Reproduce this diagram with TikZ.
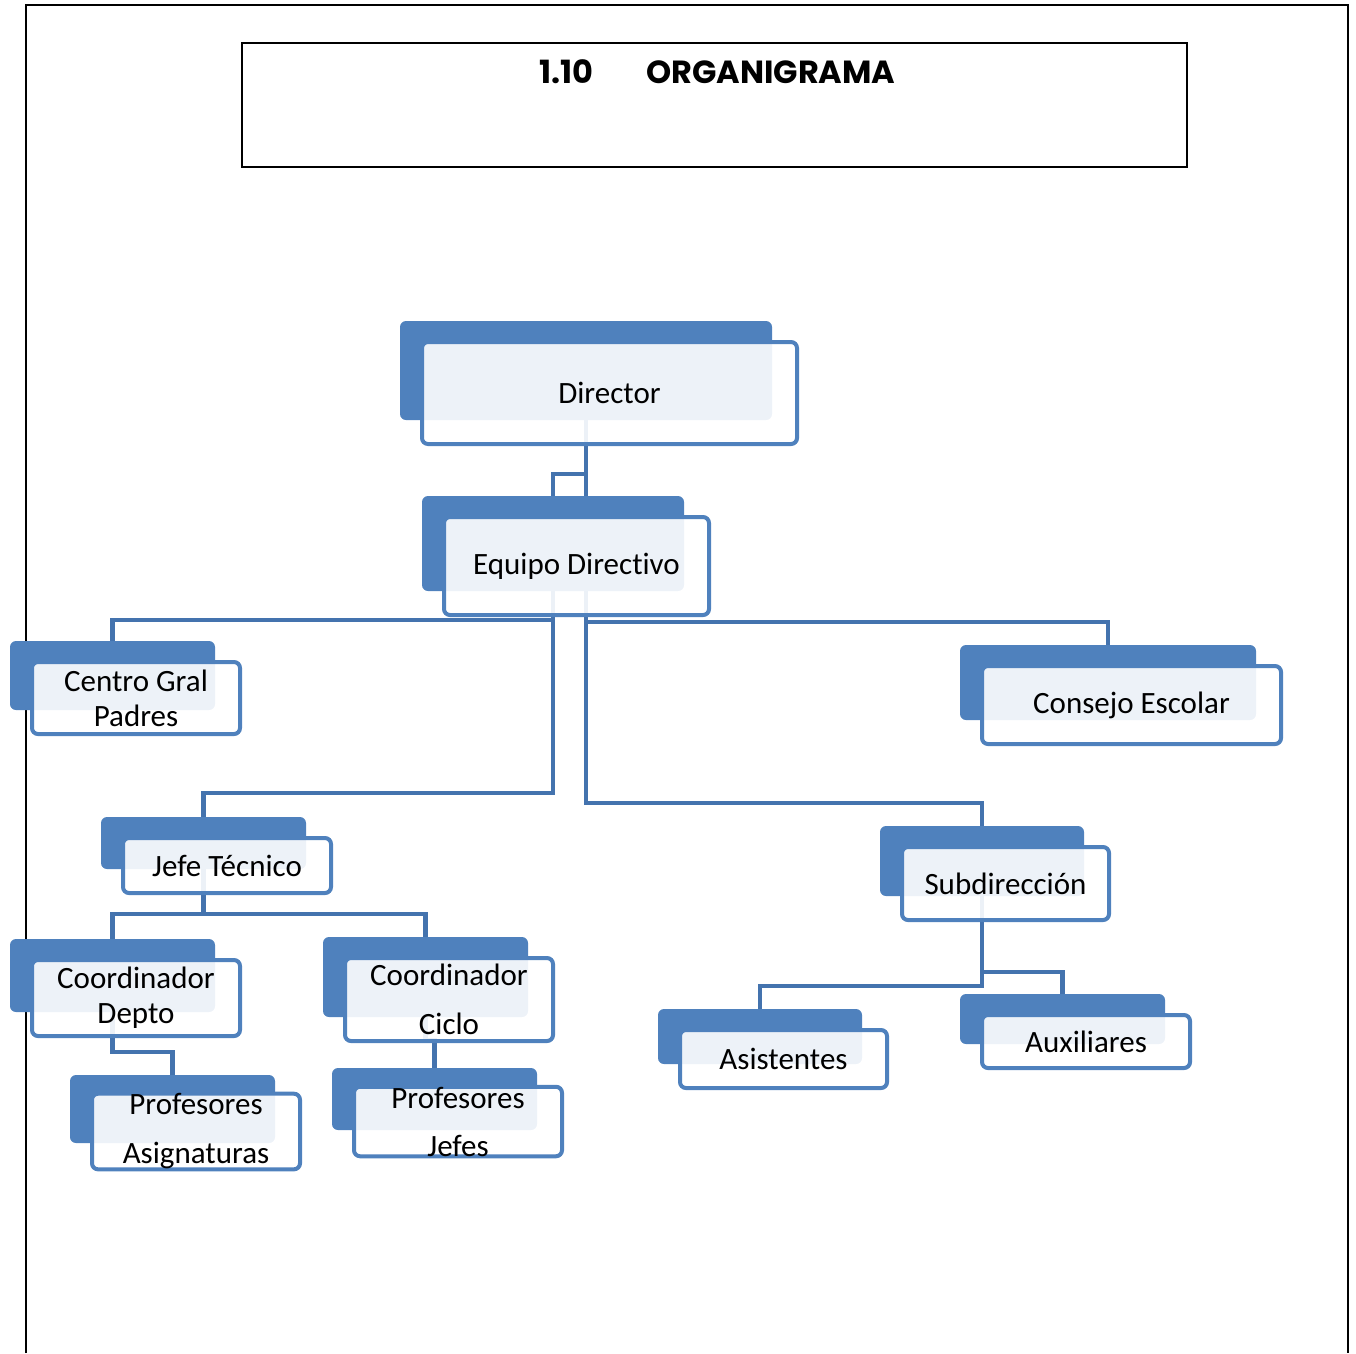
\documentclass[tikz,border=0pt]{standalone}
\usepackage{fontspec}
\setmainfont{Carlito}[Ligatures=NoCommon]
\newfontfamily\titlefont{Poppins}
\usetikzlibrary{backgrounds}
\definecolor{accent}{RGB}{79,129,189}
\definecolor{connc}{RGB}{68,115,174}
\tikzset{
 backbox/.style={fill=accent, rounded corners=6pt, inner sep=0pt, draw=none},
 frontbox/.style={draw=accent, line width=4pt, fill=white, fill opacity=0.9, text opacity=1, rounded corners=6pt, inner sep=0pt, align=center, font=\fontsize{31}{35}\selectfont},
 conn/.style={draw=connc, line width=4.5pt},
 frameline/.style={draw=black, line width=2pt}
}
\newcommand\orgbox[6]{%
 \node[backbox, minimum width={#4-#2}, minimum height={#5-#3}] (#1B) at ({(#2+#4)/2},{(#3+#5)/2}) {};
 \node[frontbox, minimum width={#4-#2+3}, minimum height={#5-#3+3}] (#1) at ({(#2+#4)/2+23.5},{(#3+#5)/2+22.5}) {#6};
}
\begin{document}
\begin{tikzpicture}[x=1pt,y=-1pt]
\useasboundingbox (0,0) rectangle (1356,1353);
% title
\node[frameline, minimum width=945, minimum height=124, inner sep=0pt] (titlebox) at (714.5,105) {};
\node[anchor=base west, inner sep=0pt, font=\titlefont\bfseries\fontsize{32}{36}\selectfont] (title) at (539,83) {1.10\hspace{53pt}ORGANIGRAMA};
% boxes
\orgbox{dir}{400}{321}{772}{420}{Director}
\orgbox{eq}{422}{496}{684}{591}{Equipo Directivo}
\orgbox{cg}{10}{641}{215}{710}{Centro Gral\\Padres}
\orgbox{ce}{960}{645}{1256}{720}{Consejo Escolar}
\orgbox{jt}{101}{817}{306}{869}{Jefe Técnico}
\orgbox{sub}{880}{826}{1084}{896}{Subdirección}
\orgbox{cd}{10}{939}{215}{1012}{Coordinador\\Depto}
\orgbox{cc}{323}{937}{528}{1017}{Coordinador\\[14pt]Ciclo}
\orgbox{pa}{70}{1075}{275}{1143}{Profesores\\[14pt]Asignaturas}
\orgbox{pj}{332}{1068}{537}{1130}{Profesores\\[13pt]Jefes}
\orgbox{as}{658}{1009}{862}{1064}{Asistentes}
\orgbox{au}{960}{994}{1165}{1044}{Auxiliares}
% junction levels
\coordinate (h474) at (0,474);
\coordinate (h620) at (0,620);
\coordinate (h622) at (0,622);
\coordinate (h793) at (0,793);
\coordinate (h803) at (0,803);
\coordinate (h914) at (0,914);
\coordinate (h1040) at (0,1040);
\coordinate (h1052) at (0,1052);
\coordinate (h972) at (0,972);
\coordinate (h986) at (0,986);
\begin{scope}[on background layer]
\draw[frameline] (26,1353) -- (26,5) -- (1348,5) -- (1348,1353);
\draw[conn] (dirB.south) |- (subB.north |- h803) -- (subB.north);
\draw[conn] (dirB.south |- h474) -| (eqB.north);
\draw[conn] (dirB.south |- h622) -| (ceB.north);
\draw[conn] (eqB.south |- h620) -| (cgB.north);
\draw[conn] (eqB.south) |- (jtB.north |- h793) -- (jtB.north);
\draw[conn] (jtB.south) |- (cdB.north |- h914) -- (cdB.north);
\draw[conn] (jtB.south |- h914) -| (ccB.north);
\draw[conn] (cdB.south) |- (paB.north |- h1052) -- (paB.north);
\draw[conn] (ccB.south) |- (pjB.north |- h1040) -- (pjB.north);
\draw[conn] (subB.south) |- (asB.north |- h986) -- (asB.north);
\draw[conn] (subB.south |- h972) -| (auB.north);
\end{scope}
\end{tikzpicture}
\end{document}
